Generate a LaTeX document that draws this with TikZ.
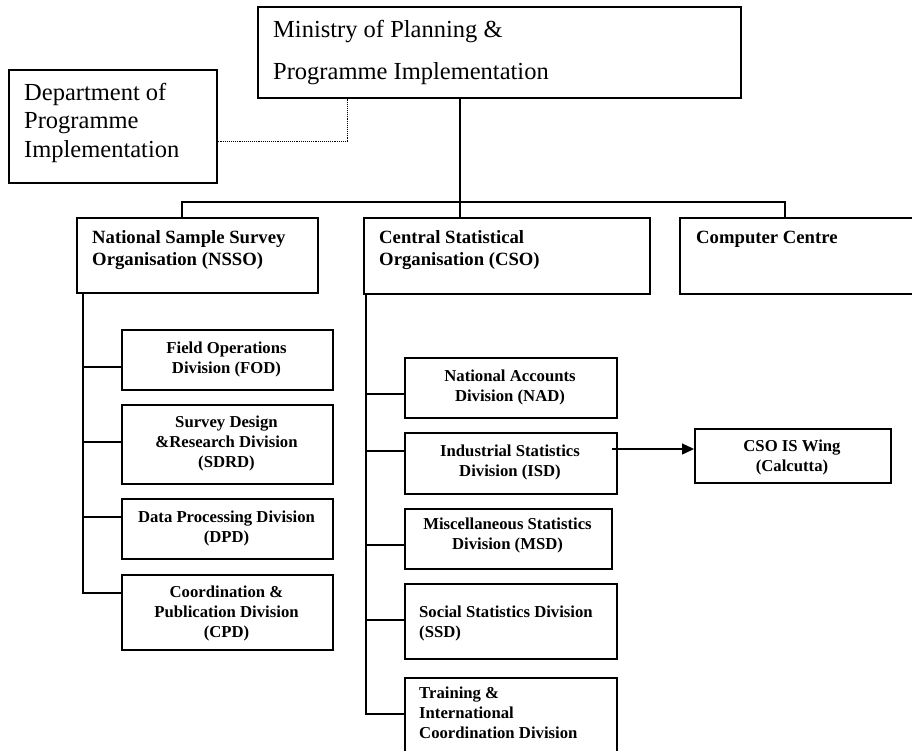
\documentclass[tikz,border=0pt]{standalone}
\usepackage{fontspec}
\setmainfont{Liberation Serif}
\usetikzlibrary{arrows.meta}
\begin{document}
\begin{tikzpicture}[x=1pt,y=-1pt,
  box/.style={draw, line width=1.5pt, inner sep=0pt, anchor=north west},
  conn/.style={line width=1.3pt},
  dotline/.style={line width=0.9pt, densely dotted},
  childc/.style={font=\fontsize{16.7}{20}\selectfont\bfseries, inner sep=0pt, anchor=base, align=center},
  childl/.style={font=\fontsize{16.7}{20}\selectfont\bfseries, inner sep=0pt, anchor=base west, align=left},
  head/.style={font=\fontsize{18.7}{22}\selectfont\bfseries, inner sep=0pt, anchor=base west, align=left},
  bigtext/.style={inner sep=0pt, anchor=base west, align=left}]
\clip (0,0) rectangle (912,750);
\fill[white] (0,0) rectangle (912,750);

% boxes
\node[box, minimum width=483pt, minimum height=91pt] (ministry) at (257,6) {};
\node[box, minimum width=208pt, minimum height=113pt] (dept) at (8,69) {};
\node[box, minimum width=241pt, minimum height=75pt] (nsso) at (76,217) {};
\node[box, minimum width=286pt, minimum height=76pt] (cso) at (363,217) {};
\node[box, minimum width=250pt, minimum height=76pt] (cc) at (679,217) {};
\node[box, minimum width=211pt, minimum height=60pt] (fod) at (121,329) {};
\node[box, minimum width=211pt, minimum height=79pt] (sdrd) at (121,404) {};
\node[box, minimum width=211pt, minimum height=60pt] (dpd) at (121,498) {};
\node[box, minimum width=211pt, minimum height=75pt] (cpd) at (121,574) {};
\node[box, minimum width=212pt, minimum height=60pt] (nad) at (404,357) {};
\node[box, minimum width=212pt, minimum height=61pt] (isd) at (404,432) {};
\node[box, minimum width=207pt, minimum height=60pt] (msd) at (404,508) {};
\node[box, minimum width=212pt, minimum height=75pt] (ssd) at (404,583) {};
\node[box, minimum width=212pt, minimum height=90pt] (tic) at (404,677) {};
\node[box, minimum width=196pt, minimum height=54pt] (iswing) at (694,428) {};

% texts (anchored at the baseline of their last line)
\node[bigtext, font=\fontsize{24.5}{42}\selectfont] (tministry) at (273,79) {Ministry of Planning \&\\Programme Implementation};
\node[bigtext, font=\fontsize{24.5}{28.5}\selectfont] (tdept) at (24,157) {Department of\\Programme\\Implementation};
\node[head] (tnsso) at (92,265) {National Sample Survey\\Organisation (NSSO)};
\node[head] (tcso) at (379,265) {Central Statistical\\Organisation (CSO)};
\node[head] (tcc) at (696,243) {Computer Centre};
\node[childc] (tfod) at (226.5,373) {Field Operations\\Division (FOD)};
\node[childc] (tsdrd) at (226.5,467) {Survey Design\\\&Research Division\\(SDRD)};
\node[childc] (tdpd) at (226.5,542) {Data Processing Division\\(DPD)};
\node[childc] (tcpd) at (226.5,637) {Coordination \&\\Publication Division\\(CPD)};
\node[childc] (tnad) at (510,401) {National Accounts\\Division (NAD)};
\node[childc] (tisd) at (510,476) {Industrial Statistics\\Division (ISD)};
\node[childc] (tmsd) at (507.5,549) {Miscellaneous Statistics\\Division (MSD)};
\node[childl] (tssd) at (419,637) {Social Statistics Division\\(SSD)};
\node[childl] (ttic) at (419,738) {Training \&\\International\\Coordination Division};
\node[childc] (tiswing) at (792,471) {CSO IS Wing\\(Calcutta)};

% top connectors
\coordinate (mx) at (460,202);
\coordinate (nx) at (182,202);
\coordinate (cx) at (785,202);
\draw[conn] (ministry.south -| mx) -- (cso.north -| mx);
\draw[conn] (nsso.north -| nx) -- (nx) -- (cx) -- (cc.north -| cx);

% dotted link
\coordinate (dx) at (347,141);
\draw[dotline] (ministry.south -| dx) -- (dx) -- (dept.east |- dx);

% NSSO spine
\coordinate (ns) at (83,0);
\path (fod.north west) ++(0,38) coordinate (fodc);
\path (sdrd.north west) ++(0,38) coordinate (sdrdc);
\path (dpd.north west) ++(0,19) coordinate (dpdc);
\path (cpd.north west) ++(0,19) coordinate (cpdc);
\draw[conn] (nsso.south -| ns) -- (ns |- cpdc) -- (cpdc);
\draw[conn] (ns |- fodc) -- (fodc);
\draw[conn] (ns |- sdrdc) -- (sdrdc);
\draw[conn] (ns |- dpdc) -- (dpdc);

% CSO spine
\coordinate (cs) at (366,0);
\path (nad.north west) ++(0,37) coordinate (nadc);
\path (isd.north west) ++(0,19) coordinate (isdc);
\path (msd.north west) ++(0,37) coordinate (msdc);
\path (ssd.north west) ++(0,37) coordinate (ssdc);
\path (tic.north west) ++(0,37) coordinate (ticc);
\draw[conn] (cso.south -| cs) -- (cs |- ticc) -- (ticc);
\draw[conn] (cs |- nadc) -- (nadc);
\draw[conn] (cs |- isdc) -- (isdc);
\draw[conn] (cs |- msdc) -- (msdc);
\draw[conn] (cs |- ssdc) -- (ssdc);

% arrow
\path (isd.north east) ++(-6,17) coordinate (isa);
\draw[conn, -{Triangle[length=12pt,width=11pt]}] (isa) -- (iswing.west |- isa);
\end{tikzpicture}
\end{document}
